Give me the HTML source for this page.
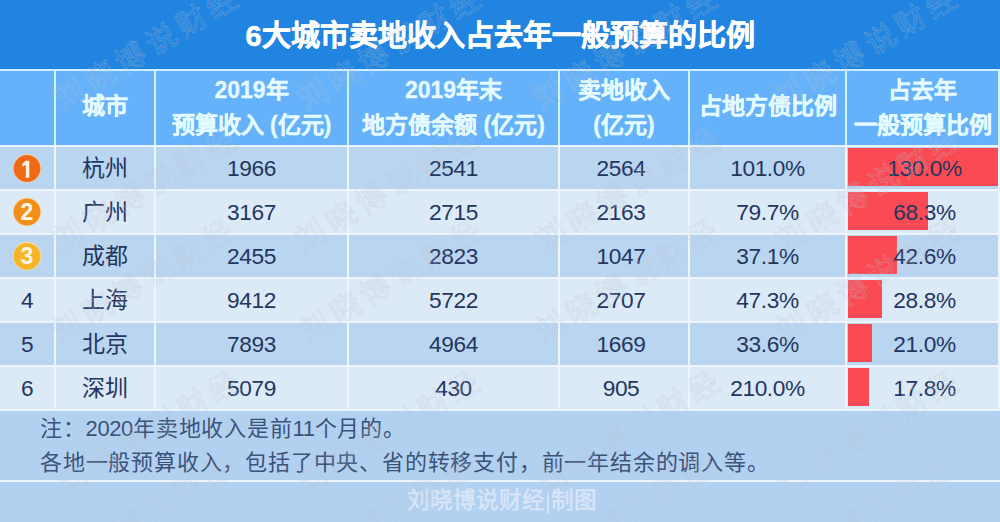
<!DOCTYPE html>
<html lang="zh-CN"><head><meta charset="utf-8">
<style>
*{margin:0;padding:0;box-sizing:border-box}
html,body{width:1000px;height:522px;overflow:hidden;background:#ffffff}
body{position:relative;font-family:"Liberation Sans",sans-serif}
.a{position:absolute}
#title{left:0;top:0;width:1000px;height:69px;background:#2184e0}
#title span{position:absolute;left:0;top:15.5px;width:1000px;text-align:center;color:#fff;font-weight:bold;font-size:29px;line-height:40px;letter-spacing:0px;-webkit-text-stroke:0.5px #fff}
#head{left:0;top:71px;width:998px;height:74px;background:#65b2fb}
.r{position:absolute;left:0;width:998px;height:42px}
.d{background:#bad5f0}
.l{background:#dce9f6}
.vl{position:absolute;top:71px;width:2px;height:338px;background:linear-gradient(#d2f4ff 0,#d2f4ff 74px,#edf5fd 74px)}
.hl{position:absolute;left:0;width:1000px;height:2px;background:#ecf5fd}
.c{position:absolute;text-align:center;color:#24365e;font-size:22.7px;letter-spacing:-0.4px;line-height:42px;white-space:nowrap}
.n{font-size:23px;letter-spacing:0}
.h{position:absolute;text-align:center;color:#e4fbff;font-weight:bold;font-size:23px;line-height:34px;white-space:nowrap;-webkit-text-stroke:0.3px #e4fbff}
.bar{position:absolute;left:848px;background:#fa4b55}
.circ{position:absolute;left:13px;width:28px;height:28px;color:#fff6e2;font-weight:bold;font-size:23px;line-height:28px;text-align:center}
#foot{left:0;top:411px;width:1000px;height:69px;background:#b2d1f1}
#bottom{left:0;top:482px;width:1000px;height:40px;background:#b2d1f1}
.fn{position:absolute;left:40px;color:#3c5278;font-size:22px;letter-spacing:0.8px;line-height:35px;white-space:nowrap}
.dg{letter-spacing:-0.4px}
.wm{position:absolute;font-size:30px;line-height:30px;letter-spacing:5.5px;white-space:nowrap;color:transparent;-webkit-text-stroke:0.7px rgba(185,195,208,0.42);transform-origin:15px 15px;transform:rotate(-31deg);pointer-events:none}
</style></head><body>
<div id="title" class="a"><span>6大城市卖地收入占去年一般预算的比例</span></div>
<div class="hl" style="top:69px;background:#cdeeff"></div>
<div id="head" class="a"></div>

<div class="r d" style="top:147px"></div>
<div class="r l" style="top:191px"></div>
<div class="r d" style="top:235px"></div>
<div class="r l" style="top:279px"></div>
<div class="r d" style="top:323px"></div>
<div class="r l" style="top:367px"></div>

<div id="foot" class="a"></div>
<div id="bottom" class="a"></div>

<div class="bar" style="top:148px;width:150px;height:38px"></div>
<div class="bar" style="top:192px;width:80px;height:38px"></div>
<div class="bar" style="top:236px;width:49px;height:38px"></div>
<div class="bar" style="top:280px;width:34px;height:38px"></div>
<div class="bar" style="top:324px;width:24px;height:38px"></div>
<div class="bar" style="top:368px;width:21px;height:38px"></div>

<div class="hl" style="top:145px"></div>
<div class="hl" style="top:189px"></div>
<div class="hl" style="top:233px"></div>
<div class="hl" style="top:277px"></div>
<div class="hl" style="top:321px"></div>
<div class="hl" style="top:365px"></div>
<div class="hl" style="top:409px"></div>
<div class="hl" style="top:480px"></div>

<div class="vl" style="left:54px"></div>
<div class="vl" style="left:154px"></div>
<div class="vl" style="left:347px"></div>
<div class="vl" style="left:558px"></div>
<div class="vl" style="left:688px"></div>
<div class="vl" style="left:845px"></div>
<div class="vl" style="left:998px"></div>

<!-- header text -->
<div class="h" style="left:56px;width:98px;top:89px">城市</div>
<div class="h" style="left:156px;width:191px;top:73px">2019年</div>
<div class="h" style="left:156px;width:191px;top:108px">预算收入 (亿元)</div>
<div class="h" style="left:349px;width:209px;top:73px">2019年末</div>
<div class="h" style="left:349px;width:209px;top:108px">地方债余额 (亿元)</div>
<div class="h" style="left:560px;width:128px;top:73px">卖地收入</div>
<div class="h" style="left:560px;width:128px;top:108px">(亿元)</div>
<div class="h" style="left:690px;width:155px;top:89px">占地方债比例</div>
<div class="h" style="left:847px;width:151px;top:73px">占去年</div>
<div class="h" style="left:847px;width:151px;top:108px">一般预算比例</div>

<!-- circles -->
<svg class="a" style="left:0;top:147px" width="54" height="132" viewBox="0 147 54 132">
<circle cx="27" cy="168.5" r="14.2" fill="#f9cfa6"/>
<circle cx="27" cy="168.5" r="13.4" fill="#ef6a18"/>
<path d="M25.6 160.7H29.3V177.7H25.8V164.8L22.3 166.8V163.8Z" fill="#fff5dc"/>
<circle cx="27" cy="212" r="14.2" fill="#fad7a8"/>
<circle cx="27" cy="212" r="13.4" fill="#f28e1c"/>
<circle cx="27" cy="256.3" r="14.2" fill="#fbe0a0"/>
<circle cx="27" cy="256.3" r="13.4" fill="#f6b42a"/>
</svg>
<div class="circ" style="top:198px">2</div>
<div class="circ" style="top:242px">3</div>
<!-- rows -->
<div class="c" style="left:0;width:54px;top:279px">4</div>
<div class="c" style="left:0;width:54px;top:323px">5</div>
<div class="c" style="left:0;width:54px;top:367px">6</div>

<div class="c n" style="left:56px;width:98px;top:147px">杭州</div>
<div class="c n" style="left:56px;width:98px;top:191px">广州</div>
<div class="c n" style="left:56px;width:98px;top:235px">成都</div>
<div class="c n" style="left:56px;width:98px;top:279px">上海</div>
<div class="c n" style="left:56px;width:98px;top:323px">北京</div>
<div class="c n" style="left:56px;width:98px;top:367px">深圳</div>

<div class="c" style="left:156px;width:191px;top:147px">1966</div>
<div class="c" style="left:156px;width:191px;top:191px">3167</div>
<div class="c" style="left:156px;width:191px;top:235px">2455</div>
<div class="c" style="left:156px;width:191px;top:279px">9412</div>
<div class="c" style="left:156px;width:191px;top:323px">7893</div>
<div class="c" style="left:156px;width:191px;top:367px">5079</div>

<div class="c" style="left:349px;width:209px;top:147px">2541</div>
<div class="c" style="left:349px;width:209px;top:191px">2715</div>
<div class="c" style="left:349px;width:209px;top:235px">2823</div>
<div class="c" style="left:349px;width:209px;top:279px">5722</div>
<div class="c" style="left:349px;width:209px;top:323px">4964</div>
<div class="c" style="left:349px;width:209px;top:367px">430</div>

<div class="c" style="left:557px;width:128px;top:147px">2564</div>
<div class="c" style="left:557px;width:128px;top:191px">2163</div>
<div class="c" style="left:557px;width:128px;top:235px">1047</div>
<div class="c" style="left:557px;width:128px;top:279px">2707</div>
<div class="c" style="left:557px;width:128px;top:323px">1669</div>
<div class="c" style="left:557px;width:128px;top:367px">905</div>

<div class="c" style="left:690px;width:155px;top:147px">101.0%</div>
<div class="c" style="left:690px;width:155px;top:191px">79.7%</div>
<div class="c" style="left:690px;width:155px;top:235px">37.1%</div>
<div class="c" style="left:690px;width:155px;top:279px">47.3%</div>
<div class="c" style="left:690px;width:155px;top:323px">33.6%</div>
<div class="c" style="left:690px;width:155px;top:367px">210.0%</div>

<div class="c" style="left:849px;width:151px;top:147px">130.0%</div>
<div class="c" style="left:849px;width:151px;top:191px">68.3%</div>
<div class="c" style="left:849px;width:151px;top:235px">42.6%</div>
<div class="c" style="left:849px;width:151px;top:279px">28.8%</div>
<div class="c" style="left:849px;width:151px;top:323px">21.0%</div>
<div class="c" style="left:849px;width:151px;top:367px">17.8%</div>

<!-- footnote -->
<div class="fn" style="top:411px">注：<span class="dg">2020</span>年卖地收入是前<span class="dg">11</span>个月的。</div>
<div class="fn" style="top:445px">各地一般预算收入，包括了中央、省的转移支付，前一年结余的调入等。</div>
<div class="a" style="left:2px;width:1000px;top:484px;line-height:34px;text-align:center;color:#d9e6f7;font-size:22.5px;-webkit-text-stroke:0.5px #d9e6f7">刘晓博说财经<span style="-webkit-text-stroke:0">|</span>制图</div>
<!-- watermark -->
<div class="wm" style="left:55px;top:80px">刘晓博说财经</div>
<div class="wm" style="left:298px;top:80px">刘晓博说财经</div>
<div class="wm" style="left:534px;top:80px">刘晓博说财经</div>
<div class="wm" style="left:774px;top:80px">刘晓博说财经</div>
<div class="wm" style="left:54px;top:221px">刘晓博说财经</div>
<div class="wm" style="left:296px;top:221px">刘晓博说财经</div>
<div class="wm" style="left:537px;top:221px">刘晓博说财经</div>
<div class="wm" style="left:777px;top:221px">刘晓博说财经</div>
<div class="wm" style="left:52px;top:312px">刘晓博说财经</div>
<div class="wm" style="left:300px;top:312px">刘晓博说财经</div>
<div class="wm" style="left:536px;top:312px">刘晓博说财经</div>
<div class="wm" style="left:777px;top:312px">刘晓博说财经</div>
<div class="wm" style="left:57px;top:464px">刘晓博说财经</div>
<div class="wm" style="left:297px;top:464px">刘晓博说财经</div>
<div class="wm" style="left:537px;top:464px">刘晓博说财经</div>
<div class="wm" style="left:776px;top:464px">刘晓博说财经</div>
<div class="wm" style="left:52px;top:548px">刘晓博说财经</div>
<div class="wm" style="left:293px;top:548px">刘晓博说财经</div>
<div class="wm" style="left:533px;top:548px">刘晓博说财经</div>
<div class="wm" style="left:774px;top:548px">刘晓博说财经</div>
</body></html>
